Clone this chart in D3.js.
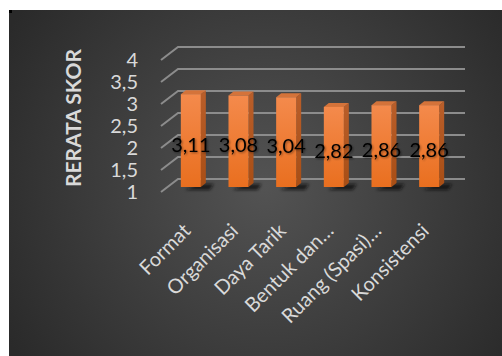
<!DOCTYPE html>
<html><head><meta charset="utf-8">
<script src="https://cdn.jsdelivr.net/npm/d3@7"></script>
<style>html,body{margin:0;padding:0;background:#fff;}svg{display:block;}</style>
</head><body>
<script>
const categories = ["Format","Organisasi","Daya Tarik","Bentuk dan…","Ruang (Spasi)…","Konsistensi"];
const values = [3.11, 3.08, 3.04, 2.82, 2.86, 2.86];
const valueLabels = ["3,11","3,08","3,04","2,82","2,86","2,86"];
const ticks = [1, 1.5, 2, 2.5, 3, 3.5, 4];
const tickLabels = ["1","1,5","2","2,5","3","3,5","4"];
const yTitle = "RERATA SKOR";

const W = 502, H = 356;
const svg = d3.select("body").append("svg").attr("width", W).attr("height", H);
const defs = svg.append("defs");

const bg = defs.append("radialGradient").attr("id","bg")
  .attr("gradientUnits","userSpaceOnUse").attr("cx",265).attr("cy",185).attr("r",300);
bg.append("stop").attr("offset","0%").attr("stop-color","#535353");
bg.append("stop").attr("offset","100%").attr("stop-color","#2a2a2a");

const face = defs.append("linearGradient").attr("id","face").attr("x1",0).attr("y1",0).attr("x2",0).attr("y2",1);
face.append("stop").attr("offset","0%").attr("stop-color","#f48a4c");
face.append("stop").attr("offset","100%").attr("stop-color","#e96f1f");

const side = defs.append("linearGradient").attr("id","side").attr("x1",0).attr("y1",0).attr("x2",0).attr("y2",1);
side.append("stop").attr("offset","0%").attr("stop-color","#b95e2a");
side.append("stop").attr("offset","100%").attr("stop-color","#a84e15");

const blur = defs.append("filter").attr("id","blur").attr("x","-50%").attr("y","-50%").attr("width","200%").attr("height","200%");
blur.append("feGaussianBlur").attr("stdDeviation",1.6);

const tshadow = defs.append("filter").attr("id","tsh").attr("x","-20%").attr("y","-30%").attr("width","140%").attr("height","160%");
tshadow.append("feDropShadow").attr("dx",1).attr("dy",1).attr("stdDeviation",1).attr("flood-color","#000").attr("flood-opacity",0.45);

// panel
svg.append("rect").attr("x",9).attr("y",10).attr("width",W-9).attr("height",H-10).attr("fill","url(#bg)");
svg.append("rect").attr("x",9).attr("y",10).attr("width",3).attr("height",3).attr("fill","#000");

const x = d3.scaleBand().domain(categories).range([167, 453]).paddingInner(0.58).paddingOuter(0.29);
const y = d3.scaleLinear().domain([1, 4]).range([187, 55]);

// depth geometry for the 3D grid
const frontDx = -6, frontDy = 5, backDx = 11, backDy = -8;
const gridX0 = 167, gridX1 = 454;

const grid = svg.append("g");
ticks.forEach(t => {
  const by = y(t) + backDy, fy = y(t) + frontDy;
  grid.append("path")
    .attr("d", `M${gridX0+frontDx},${fy}L${gridX0+backDx},${by}L${gridX1+backDx},${by}`)
    .attr("fill","none").attr("stroke","#8c8c8c").attr("stroke-width",2);
});

// tick labels
svg.append("g").selectAll("text").data(ticks).join("text")
  .attr("x",138).attr("y", d => y(d) + frontDy)
  .attr("dy","0.35em").attr("text-anchor","end")
  .attr("font-family","Lato, 'Open Sans', sans-serif").attr("font-size",20)
  .attr("fill","#d9d9d9")
  .text((d,i) => tickLabels[i]);

// y title
svg.append("text")
  .attr("transform","translate(81,118) rotate(-90)")
  .attr("text-anchor","middle")
  .attr("font-family","Lato, 'Open Sans', sans-serif").attr("font-weight","bold").attr("font-size",21)
  .attr("fill","#d9d9d9").text(yTitle);

// bars
const dx = 5, dy = -4;
const bars = svg.append("g").selectAll("g").data(values).join("g");
const bw = x.bandwidth();
bars.each(function(v, i) {
  const g = d3.select(this);
  const x0 = x(categories[i]), x1 = x0 + bw, yt = y(v), yb = y(1);
  // shadow
  g.append("path")
    .attr("d", `M${x1-2},${yb-3}L${x1+dx+8},${yb-3}L${x1+dx+4},${yb+3}L${x0+4},${yb+3}Z`)
    .attr("fill","#111").attr("opacity",0.75).attr("filter","url(#blur)");
  // side
  g.append("path")
    .attr("d", `M${x1},${yt}L${x1+dx},${yt+dy}L${x1+dx},${yb+dy}L${x1},${yb}Z`)
    .attr("fill","url(#side)");
  // top
  g.append("path")
    .attr("d", `M${x0},${yt}L${x0+dx},${yt+dy}L${x1+dx},${yt+dy}L${x1},${yt}Z`)
    .attr("fill","#d4733a");
  // front
  g.append("rect").attr("x",x0).attr("y",yt).attr("width",bw).attr("height",yb-yt).attr("fill","url(#face)");
});

// value labels
svg.append("g").selectAll("text").data(values).join("text")
  .attr("x",(d,i) => x(categories[i]) + bw/2)
  .attr("y", d => (y(d) + y(1)) / 2 + 4)
  .attr("dy","0.35em").attr("text-anchor","middle")
  .attr("font-family","Lato, 'Open Sans', sans-serif").attr("font-size",20)
  .attr("fill","#000").attr("filter","url(#tsh)")
  .text((d,i) => valueLabels[i]);

// category labels
svg.append("g").selectAll("text").data(categories).join("text")
  .attr("transform", d => `translate(${x(d) + bw/2 + 1},${232}) rotate(-45)`)
  .attr("text-anchor","end")
  .attr("font-family","Lato, 'Open Sans', sans-serif").attr("font-size",20)
  .attr("fill","#d9d9d9")
  .text(d => d);
</script>
</body></html>
